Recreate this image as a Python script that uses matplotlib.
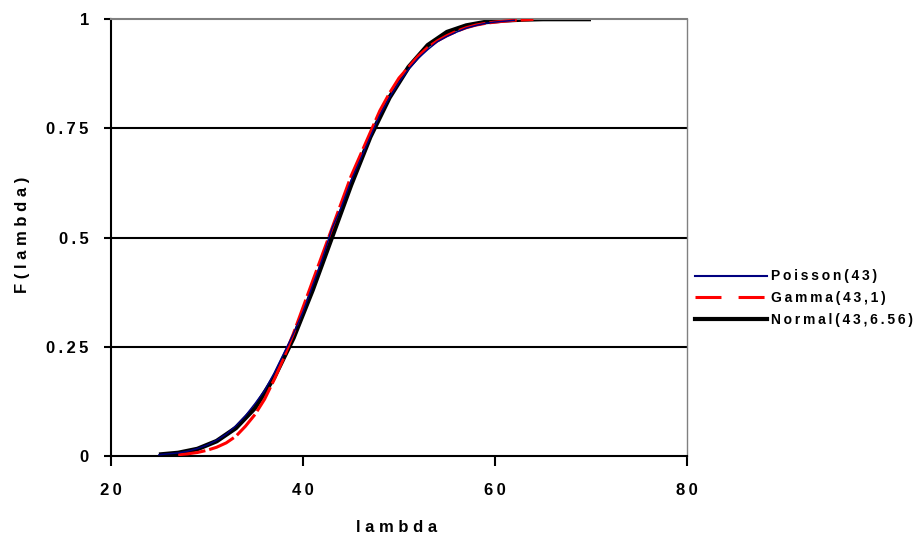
import matplotlib
matplotlib.use("Agg")
import matplotlib.pyplot as plt
from matplotlib.lines import Line2D

# ---- data ----
poisson_x = list(range(25, 63))
poisson_y = [0.003, 0.005, 0.007, 0.011, 0.017, 0.025, 0.036, 0.050, 0.069, 0.092,
             0.120, 0.150, 0.190, 0.235, 0.280, 0.330, 0.390, 0.450, 0.520, 0.570,
             0.630, 0.680, 0.730, 0.780, 0.820, 0.855, 0.885, 0.910, 0.930, 0.948,
             0.960, 0.970, 0.979, 0.985, 0.990, 0.993, 0.995, 0.997]

gamma_x = list(range(27, 65))
gamma_y = [0.003, 0.005, 0.008, 0.013, 0.020, 0.030, 0.045, 0.068, 0.095, 0.130,
           0.175, 0.225, 0.280, 0.340, 0.400, 0.460, 0.520, 0.580, 0.640, 0.690,
           0.740, 0.790, 0.830, 0.865, 0.890, 0.915, 0.935, 0.950, 0.962, 0.972,
           0.980, 0.986, 0.990, 0.993, 0.995, 0.997, 0.998, 0.999]

normal_x = [25, 27, 29, 31, 33, 35, 37, 39, 41, 43, 45, 47, 49, 51, 53, 55, 57, 59, 61, 63, 65, 70]
normal_y = [0.003, 0.007, 0.016, 0.034, 0.064, 0.110, 0.180, 0.270, 0.380, 0.500,
            0.620, 0.730, 0.820, 0.890, 0.940, 0.970, 0.985, 0.993, 0.997, 0.999, 1.0, 1.0]

series_names = ["Poisson(43)", "Gamma(43,1)", "Normal(43,6.56)"]
x_ticks = [20, 40, 60, 80]
y_ticks = [0, 0.25, 0.5, 0.75, 1]
y_tick_labels = ["0", "0.25", "0.5", "0.75", "1"]
x_title = "lambda"
y_title = "F(lambda)"

THIN = "\u2009"

def spaced(s, sep=THIN):
    return sep.join(s)

plt.rcParams['font.family'] = ['Liberation Sans', 'DejaVu Sans']
plt.rcParams['font.weight'] = 'bold'

W, H = 916, 538
fig = plt.figure(figsize=(W / 100, H / 100), dpi=100)
ax = fig.add_axes([111 / W, 1 - 456 / H, (687 - 111) / W, (456 - 19) / H])

for yv in [0.25, 0.5, 0.75]:
    ax.axhline(yv, color='black', lw=1.5, zorder=1)

ax.plot(normal_x, normal_y, color='black', lw=3.3, zorder=2, solid_capstyle='butt')
ax.plot(gamma_x, gamma_y, color='#ff0000', lw=2.2, dashes=(9.0, 1.3), zorder=3)
ax.plot(poisson_x, poisson_y, color='#000080', lw=1.1, zorder=4)

ax.set_xlim(20, 80)
ax.set_ylim(0, 1)
ax.set_xticks(x_ticks)
ax.set_xticklabels([spaced(str(v)) for v in x_ticks], fontsize=12, fontweight='bold')
ax.set_yticks(y_ticks)
ax.set_yticklabels([spaced(t) for t in y_tick_labels], fontsize=12, fontweight='bold')
ax.tick_params(axis='x', direction='out', length=7.5, width=1.5, color='black', pad=12)
ax.tick_params(axis='y', direction='out', length=5, width=1.5, color='black', pad=11)

for side in ['left', 'bottom']:
    ax.spines[side].set_color('black')
    ax.spines[side].set_linewidth(1.5)
ax.spines['top'].set_color('#808080')
ax.spines['top'].set_linewidth(1.5)
ax.spines['right'].set_color('#808080')
ax.spines['right'].set_linewidth(1.0)

fig.text(397 / W, 1 - 527 / H, spaced(x_title, " "), fontsize=12, fontweight='bold',
         ha='center', va='center')
fig.text(23 / W, 1 - 235 / H, spaced(y_title, " "), fontsize=12, fontweight='bold',
         ha='center', va='center', rotation=90)

handles = [Line2D([], [], color='#000080', lw=1.5),
           Line2D([], [], color='#ff0000', lw=2.2, dashes=(8.5, 5.6)),
           Line2D([], [], color='black', lw=3.0)]
fig.legend(handles, [spaced(n) for n in series_names],
           loc='center left', bbox_to_anchor=(695 / W, 1 - 298 / H),
           frameon=False, prop={'size': 10, 'weight': 'bold'},
           handlelength=5.2, handletextpad=0.3, labelspacing=0.55,
           borderpad=0, borderaxespad=0)

fig.savefig("out.png", dpi=100)
